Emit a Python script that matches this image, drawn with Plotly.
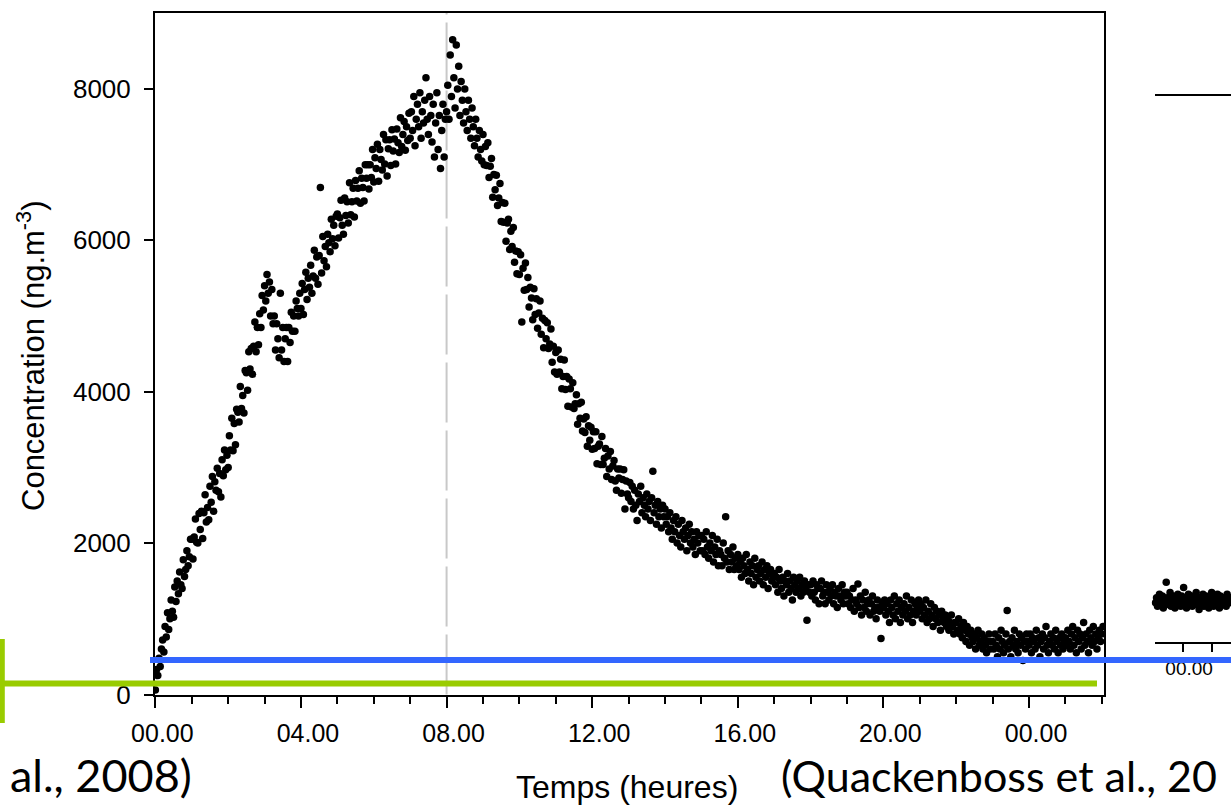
import plotly.graph_objects as go

W, H = 1231, 806
SAMPLE_H = 1 / 30  # one reading every 2 minutes (in hours)

# Main series: concentration (ng.m-3), one row per hour, 30 readings per hour
conc_main = [
    # 00h
    60, 330, 250, 480, 370, 600, 720, 560, 900, 760, 1080, 860, 1000, 1250, 1100, 1020, 1420, 1230, 1500, 1330, 1620, 1450, 1400, 1780, 1560, 1650, 1900, 1700, 1820, 2050,
    # 01h
    2050, 1790, 2080, 2320, 2010, 2000, 2390, 2180, 2420, 2060, 2400, 2640, 2280, 2470, 2310, 2750, 2540, 2880, 2420, 2810, 2700, 2990, 2680, 2920, 2610, 3100, 2890, 3230, 2970, 3160,
    # 02h
    3000, 3420, 3230, 3650, 3220, 3580, 3300, 3770, 3730, 3600, 4070, 3780, 3950, 3720, 4280, 4250, 4020, 4530, 4300, 4570, 4230, 4600, 4920, 4530, 4850, 4620, 5030, 4850, 5270, 5080,
    # 03h
    5400, 5200, 5550, 5300, 5450, 5000, 5350, 4900, 5000, 4550, 4900, 4700, 4450, 5300, 4550, 4850, 4400, 4700, 4850, 4400, 4850, 4650, 5050, 4800, 5000, 4800, 5200, 5100, 5000, 5300,
    # 04h
    5100, 5430, 5020, 5350, 5580, 5220, 5500, 5380, 5670, 5300, 5530, 5870, 5500, 5780, 5420, 5800, 6700, 5570, 6050, 5730, 5920, 5650, 6080, 5970, 5850, 6280, 6020, 6200, 5930, 6320,
    # 05h
    6350, 6030, 6300, 6530, 6200, 6080, 6560, 6330, 6510, 6230, 6760, 6340, 6510, 6690, 6310, 6790, 6520, 6690, 6920, 6490, 6820, 6700, 6520, 7000, 6820, 7000, 6680, 7000, 6830, 7200,
    # 06h
    6770, 7090, 6950, 7270, 6780, 7200, 7070, 6930, 7400, 7010, 7330, 6850, 7210, 7330, 6990, 7460, 7180, 7340, 7010, 7470, 7290, 7160, 7620, 7240, 7400, 7570, 7190, 7500, 7320, 7680,
    # 07h
    7350, 7700, 7450, 7900, 7250, 7600, 7800, 7500, 7950, 7350, 7700, 7550, 7850, 8150, 7600, 7400, 7900, 7650, 7300, 7800, 7100, 7550, 7950, 7200, 7650, 6950, 7450, 7800, 7100, 7600,
    # 08h
    7700, 8050, 7600, 8450, 7900, 8650, 8150, 7750, 8580, 8000, 8300, 7650, 8100, 7850, 7550, 8000, 7700, 7450, 7850, 7600, 7350, 7750, 7500, 7250, 7600, 7350, 7100, 7450, 7200, 7050,
    # 09h
    7400, 7000, 7240, 6990, 7290, 6830, 6980, 7080, 6570, 6870, 6670, 6860, 6460, 6560, 6750, 6250, 6500, 6240, 6490, 5990, 6230, 6280, 5880, 6120, 5920, 6170, 5710, 5860, 5560, 5850,
    # 10h
    5550, 5810, 4920, 5630, 5340, 5700, 5350, 5510, 5120, 5380, 5240, 4950, 5360, 5020, 5230, 4840, 5040, 5200, 4760, 4970, 4580, 4940, 4700, 4910, 4570, 4630, 4830, 4390, 4600, 4260,
    # 11h
    4520, 4230, 4550, 4260, 4430, 4040, 4200, 4420, 4030, 4200, 3810, 4170, 4040, 3800, 4120, 3780, 3840, 3960, 3570, 3840, 3650, 3860, 3480, 3640, 3460, 3670, 3280, 3550, 3360, 3530,
    # 12h
    3240, 3470, 3250, 3470, 3050, 3280, 3310, 3040, 3410, 3040, 3120, 3250, 2880, 3150, 2980, 3210, 2840, 3020, 3090, 2820, 2700, 2980, 2860, 2980, 2660, 2840, 2970, 2450, 2820, 2650,
    # 13h
    2600, 2800, 2550, 2750, 2450, 2700, 2500, 2300, 2650, 2550, 2750, 2400, 2600, 2500, 2350, 2650, 2450, 2550, 2300, 2600, 2950, 2400, 2500, 2250, 2550, 2350, 2450, 2200, 2500, 2350,
    # 14h
    2450, 2250, 2350, 2150, 2400, 2200, 2050, 2300, 2150, 2350, 2000, 2250, 2100, 1950, 2300, 2150, 2050, 2200, 1900, 2100, 2250, 2000, 2150, 1950, 2050, 1850, 2150, 2000, 2100, 1900,
    # 15h
    2100, 1900, 2050, 1850, 2150, 1950, 1800, 2000, 1900, 2100, 1750, 1950, 1850, 2050, 1700, 1900, 1850, 1700, 2000, 1800, 2350, 1750, 1900, 1650, 1850, 1750, 1950, 1650, 1800, 1700,
    # 16h
    1850, 1650, 1750, 1550, 1800, 1700, 1600, 1850, 1650, 1500, 1750, 1600, 1700, 1450, 1800, 1550, 1650, 1700, 1500, 1600, 1750, 1450, 1650, 1550, 1700, 1400, 1600, 1650, 1500, 1550,
    # 17h
    1600, 1450, 1550, 1350, 1650, 1500, 1400, 1550, 1300, 1500, 1450, 1600, 1350, 1500, 1400, 1250, 1550, 1450, 1350, 1500, 1400, 1550, 1300, 1450, 1350, 1500, 1400, 980, 1450, 1350,
    # 18h
    1450, 1300, 1500, 1350, 1250, 1450, 1400, 1200, 1400, 1500, 1300, 1350, 1200, 1450, 1350, 1250, 1400, 1300, 1450, 1200, 1350, 1300, 1150, 1400, 1300, 1250, 1450, 1200, 1350, 1300,
    # 19h
    1350, 1200, 1300, 1150, 1250, 1400, 1100, 1250, 1200, 1460, 1150, 1300, 1050, 1250, 1150, 1350, 1100, 1200, 1250, 1050, 1200, 1300, 1100, 1150, 1000, 1250, 1150, 1100, 740, 1200,
    # 20h
    1150, 1250, 1050, 1200, 1100, 950, 1250, 1150, 1050, 1300, 1000, 1200, 1100, 1250, 950, 1150, 1050, 1200, 1100, 1300, 1000, 1150, 1050, 1250, 950, 1100, 1200, 1050, 1150, 1250,
    # 21h
    1100, 1200, 1000, 1150, 1050, 1250, 950, 1100, 1000, 1200, 1050, 900, 1150, 1000, 1100, 950, 1050, 850, 1100, 1000, 950, 1050, 900, 1000, 850, 950, 1050, 900, 800, 950,
    # 22h
    950, 850, 1000, 800, 900, 750, 950, 850, 700, 900, 800, 650, 850, 750, 700, 800, 600, 750, 850, 650, 700, 800, 600, 750, 650, 550, 700, 800, 600, 700,
    # 23h
    700, 600, 800, 650, 500, 750, 600, 850, 700, 550, 650, 800, 1110, 600, 700, 500, 750, 650, 850, 600, 700, 550, 800, 650, 750, 450, 700, 600, 800, 700,
    # 24h
    650, 800, 550, 750, 700, 600, 850, 650, 750, 500, 700, 800, 600, 750, 900, 650, 550, 700, 800, 650, 750, 600, 850, 700, 550, 750, 650, 800, 600, 700,
    # 25h
    750, 650, 850, 700, 600, 800, 900, 650, 750, 550, 850, 700, 800, 600, 750, 950, 650, 800, 700, 550, 850, 750, 650, 900, 700, 800, 600, 750, 850, 700,
    # 26h
    800, 900,
]

# Partial second chart on the right (starts about one hour before midnight)
conc_right = [
    1150, 1300, 1050, 1250, 1400, 1100, 1200, 1350, 1000, 1250, 1150, 1750, 1300, 1100, 1200, 1450, 1050, 1250, 1350, 1150,
    1000, 1300, 1200, 1400, 1100, 1250, 1050, 1350, 1200, 1600, 1150, 1300, 1000, 1250, 1400, 1100, 1200, 1350, 1050, 1250,
    1150, 1300, 1450, 1100, 1200, 950, 1300, 1250, 1150, 1400, 1050, 1200, 1350, 1100, 1250, 1000, 1300, 1200, 1450, 1150,
    1050, 1300, 1250, 1100, 1400, 1200, 1000, 1350, 1150, 1250, 1100, 1300, 1200, 1050, 1400, 1250, 1150, 1300, 1200,
]
RIGHT_START_H = -0.95

x_tickvals = [0, 4, 8, 12, 16, 20, 24]
x_ticktext = ["00.00", "04.00", "08.00", "12.00", "16.00", "20.00", "00.00"]
y_tickvals = [0, 2000, 4000, 6000, 8000]
right_tickvals = [0]
right_ticktext = ["00.00"]
exposure_end_h = 8


def px(x):
    return x / W


def py(y):
    return 1 - y / H


fig = go.Figure()
fig.add_trace(go.Scatter(
    x0=0, dx=SAMPLE_H, y=conc_main, mode="markers",
    marker=dict(color="black", size=7.5, line=dict(width=0)),
    xaxis="x", yaxis="y", hoverinfo="skip"))
fig.add_trace(go.Scatter(
    x0=RIGHT_START_H, dx=SAMPLE_H, y=conc_right, mode="markers",
    marker=dict(color="black", size=7.5, line=dict(width=0)),
    xaxis="x2", yaxis="y2", hoverinfo="skip", cliponaxis=False))

arial = "Arial, Liberation Sans, sans-serif"

fig.update_layout(
    width=W, height=H,
    margin=dict(l=0, r=0, t=0, b=0, pad=0),
    paper_bgcolor="white", plot_bgcolor="white",
    showlegend=False,
    xaxis=dict(
        domain=[px(155), px(1104)], range=[-0.01, 26.06], anchor="y",
        automargin=False,
        showline=True, linecolor="black", linewidth=2, mirror=True,
        ticks="outside", ticklen=11, tickwidth=2, tickcolor="black",
        tickmode="array", tickvals=x_tickvals, ticktext=x_ticktext,
        tickfont=dict(family=arial, size=25, color="black"),
        showgrid=False, zeroline=False,
        ticklabelshift=7, ticklabelstandoff=4,
        minor=dict(dtick=1, tick0=0, ticks="outside", ticklen=7, tickwidth=2,
                   tickcolor="black", showgrid=False),
    ),
    yaxis=dict(
        domain=[py(694.5), py(13)], range=[0, 9004], anchor="x",
        automargin=False,
        showline=True, linecolor="black", linewidth=2, mirror=True,
        ticks="outside", ticklen=9, tickwidth=2, tickcolor="black",
        tickmode="array", tickvals=y_tickvals,
        tickfont=dict(family=arial, size=26, color="black"),
        ticklabelstandoff=8,
        showgrid=False, zeroline=False,
    ),
    xaxis2=dict(
        domain=[px(1155), 1.0], range=[-0.97, 1.65], anchor="y2",
        automargin=False,
        showline=True, linecolor="black", linewidth=1.5, mirror=True,
        ticks="outside", ticklen=8, tickwidth=1.5, tickcolor="black",
        tickmode="array", tickvals=right_tickvals, ticktext=right_ticktext,
        tickfont=dict(family=arial, size=19, color="black"),
        ticklabelshift=6, showgrid=False, zeroline=False,
        minor=dict(dtick=1, tick0=0, ticks="outside", ticklen=8, tickwidth=1.5,
                   tickcolor="black", showgrid=False),
    ),
    yaxis2=dict(
        domain=[py(642), py(96)], range=[0, 16000], anchor="x2",
        automargin=False,
        showline=False, showticklabels=False, ticks="", showgrid=False, zeroline=False,
    ),
)

# end-of-exposure marker (dashed grey)
fig.add_shape(type="line", xref="x", x0=exposure_end_h, x1=exposure_end_h,
              yref="paper", y0=py(694.5), y1=py(13),
              line=dict(color="#C8C8C8", width=2, dash="60px,8px"), layer="below")
# slide decorations
fig.add_shape(type="line", xref="paper", yref="paper", x0=px(150), x1=1.0,
              y0=py(660), y1=py(660), line=dict(color="#3366FF", width=6))
fig.add_shape(type="line", xref="paper", yref="paper", x0=0, x1=px(1097),
              y0=py(683.5), y1=py(683.5), line=dict(color="#99CC00", width=6))
fig.add_shape(type="line", xref="paper", yref="paper", x0=px(2.3), x1=px(2.3),
              y0=py(639), y1=py(723), line=dict(color="#99CC00", width=5))

fig.add_annotation(text="al., 2008)", xref="paper", yref="paper",
                   x=px(8), y=py(775), xanchor="left", yanchor="middle",
                   showarrow=False,
                   font=dict(family="Lato, Open Sans, sans-serif", size=45, color="black"))
fig.add_annotation(text="(Quackenboss et al., 20", xref="paper", yref="paper",
                   x=px(779), y=py(775), xanchor="left", yanchor="middle",
                   showarrow=False,
                   font=dict(family="Lato, Open Sans, sans-serif", size=43, color="black"))
fig.add_annotation(text="Temps (heures)", xref="paper", yref="paper",
                   x=px(627), y=py(787), xanchor="center", yanchor="middle",
                   showarrow=False,
                   font=dict(family=arial, size=32, color="black"))
fig.add_annotation(text="Concentration (ng.m<sup>-3</sup>)", xref="paper", yref="paper",
                   x=px(31), y=py(356), xanchor="center", yanchor="middle",
                   textangle=-90, showarrow=False,
                   font=dict(family=arial, size=31, color="black"))

fig.write_html("out.html")
